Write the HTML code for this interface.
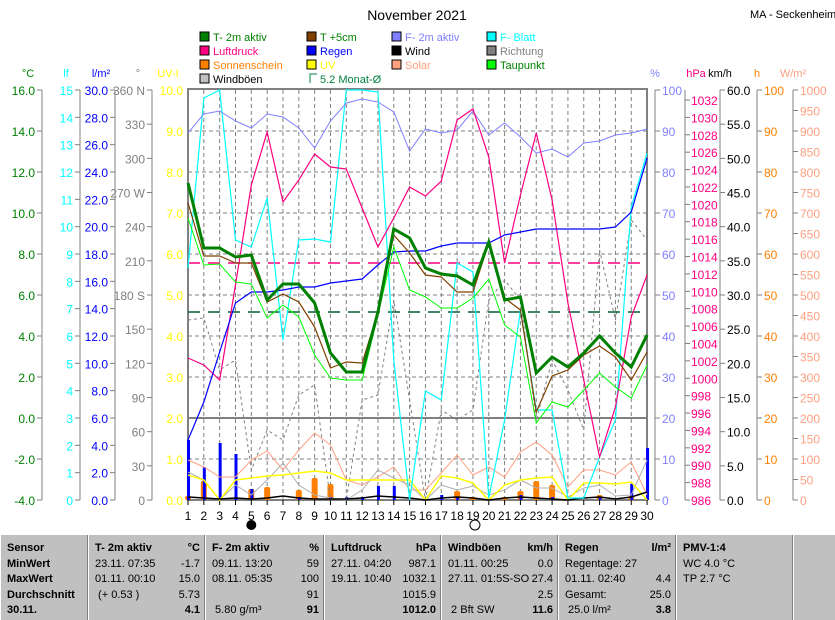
<!DOCTYPE html>
<html><head><meta charset="utf-8"><style>
body{margin:0;width:835px;height:620px;background:#fff;overflow:hidden;font-family:"Liberation Sans",sans-serif;position:relative}
svg{position:absolute;left:0;top:0}
#tb{position:absolute;left:0;top:535px;width:835px;height:85px;background:#c0c0c0;font-size:11px;color:#000}
.c{position:absolute;top:0;height:85px;border-left:1px solid #fff;box-shadow:-1px 0 0 #808080}
.r{position:absolute;white-space:nowrap;line-height:15px}
b{font-weight:bold}
</style></head><body>
<svg id="s" width="835" height="535" font-family="Liberation Sans, sans-serif" font-size="11"></svg>
<div id="tb"></div>
<script>
const s=document.getElementById('s');let h='';
const X=d=>188+(d-1)*15.83;
function t(x,y,str,c,a,sz){h+=`<text x="${x}" y="${y}" fill="${c}" text-anchor="${a||'start'}" font-size="${sz||11}">${str}</text>`;}
function L(x1,y1,x2,y2,c,w,da){h+=`<line x1="${x1}" y1="${y1}" x2="${x2}" y2="${y2}" stroke="${c}" stroke-width="${w||1}" ${da?`stroke-dasharray="${da}"`:''}/>`;}
function P(a,c,w,da){h+=`<polyline fill="none" stroke="${c}" stroke-width="${w||1}" ${da?`stroke-dasharray="${da}"`:''} points="${a.map((y,i)=>X(i+1)+','+y).join(' ')}"/>`;}
t(417,20,'November 2021','#000','middle',14);
t(750,18,'MA - Seckenheim','#000','start',11);
const lg=[[200,41,'#008000','T- 2m aktiv','#008000'],[307,41,'#804000','T +5cm','#008000'],[392,41,'#8080ff','F- 2m aktiv','#8080ff'],[487,41,'#00ffff','F- Blatt','#00ffff'],
[200,55,'#ff0080','Luftdruck','#ff0080'],[307,55,'#0000ff','Regen','#0000ff'],[392,55,'#000','Wind','#000'],[487,55,'#808080','Richtung','#808080'],
[200,69,'#ff8000','Sonnenschein','#ff8000'],[307,69,'#ffff00','UV','#ffff00'],[392,69,'#ffa080','Solar','#ffa080'],[487,69,'#00ff00','Taupunkt','#008000'],
[200,83,'#c0c0c0','Windböen','#000']];
lg.forEach(l=>{h+=`<rect x="${l[0]}" y="${l[1]-9}" width="9" height="9" fill="${l[2]}" stroke="#000"/>`;t(l[0]+13,l[1],l[3],l[4]);});
h+=`<path d="M310 83 V74 H317" fill="none" stroke="#008040"/>`;t(320,83,'5.2 Monat-Ø','#008040');
function ax(x,lab,lc,mn,mx,st,fmt,top,side){L(x,90,x,500,'#808080');t(x+(side?0:-14),77,lab,lc,'middle');
 for(let v=mn;v<=mx+1e-9;v+=st){const y=500-(v-mn)/(mx-mn)*(top?top:410);if(y<88)continue;L(side?x:x-5,y,side?x+5:x,y,'#808080');
 t(side?x+7:x-7,y+5,fmt(v),lc,side?'start':'end',12);}}
ax(42,'°C','#008000',-4,16,2,v=>v.toFixed(1));
ax(80,'lf','#00ffff',0,15,1,v=>v.toFixed(0));
ax(115,'l/m²','#0000ff',0,30,2,v=>v.toFixed(1));
ax(152,'°','#808080',0,360,30,v=>v==360?'360 N':v==270?'270 W':v==180?'180 S':v.toFixed(0));
t(168,77,'UV-I','#ffff00','middle');
for(let v=0;v<=10;v++){const y=500-v*41;t(183,y+5,v.toFixed(1),'#ffff00','end',12);}
ax(655,'%','#8080ff',0,100,10,v=>v.toFixed(0),0,1);
L(685,90,685,500,'#808080');t(696,77,'hPa','#ff0080','middle');
for(let v=986;v<=1032;v+=2){const y=500-(v-986)*400/46;L(685,y,690,y,'#808080');t(691,y+5,v,'#ff0080','start',12);}
ax(720,'km/h','#000',0,60,5,v=>v.toFixed(1),0,1);
ax(757,'h','#ff8000',0,100,10,v=>v.toFixed(0),0,1);
ax(793,'W/m²','#ffa080',0,1000,50,v=>v.toFixed(0),0,1);
for(let k=1;k<10;k++){const y=90+41*k;L(188,y,647,y,'#808080',1,'4,3');}
for(let d=2;d<=29;d++)L(X(d),90,X(d),500,'#808080',1,'4,3');
L(188,418,647,418,'#808080',2);
L(188,500,647,500,'#808080',1);
h+=`<rect x="188" y="89" width="459" height="411" fill="none" stroke="#808080" stroke-width="2"/>`;
for(let d=1;d<=30;d++){L(X(d),500,X(d),505,'#000');t(X(d),520,d,'#000','middle',12);}
h+=`<circle cx="${X(5)}" cy="525" r="5" fill="#000"/><circle cx="${X(19)+2}" cy="525" r="5" fill="#fff" stroke="#000"/>`;
const rain={1:440,2:467,3:443,4:454,5:489,8:497,10:497,11:497,12:497,13:486,14:486,17:495,18:497,22:495,24:497,27:497,29:484,30:448};
const sun={1:496,2:481,5:489,6:487,8:490,9:478,10:484,18:491,19:497,21:497,22:491,23:481,24:485,27:495,29:496};
for(const d in sun)h+=`<rect x="${X(+d)-3}" y="${sun[d]}" width="6" height="${500-sun[d]}" rx="2" fill="#ff8000"/>`;
for(const d in rain)h+=`<rect x="${X(+d)-1}" y="${rain[d]}" width="3" height="${500-rain[d]}" fill="#0000ff"/>`;
P([320,318,370,360,470,430,440,395,385,500,500,400,395,300,400,500,410,420,410,300,280,300,420,360,390,430,250,320,220,240],'#808080',1,'3,3');
P([460,467,477,477,460,451,470,450,433,445,480,485,477,467,490,490,473,455,475,467,477,452,442,455,487,470,470,475,462,495],'#ffa080');
P([472,480,500,485,495,480,463,485,495,498,500,490,470,478,485,500,485,490,486,495,490,480,488,488,497,488,485,496,495,460],'#b0b0b0');
P([475,480,500,480,478,476,475,473,471,473,480,480,480,480,480,500,476,478,483,500,485,480,478,477,500,483,483,484,482,500],'#ffff00',1.5);
P([497,498,499,498,499,498,496,498,499,499,499,498,496,497,498,500,498,497,498,500,498,497,498,499,500,498,497,499,497,492],'#000',1.5);
L(188,263,647,263,'#ff0080',1.5,'12,8');L(188,312,647,312,'#006030',1.5,'12,8');
P([268,98,90,240,247,198,340,240,239,242,90,90,92,360,500,391,400,263,272,498,420,310,410,410,498,498,457,420,207,153],'#00ffff',1.2);
P([133,114,111,121,128,114,117,128,148,121,103,99,102,112,151,129,133,130,111,135,123,137,153,149,157,143,141,135,133,129],'#8080ff');
P([358,365,380,285,185,132,202,180,154,167,169,208,247,218,187,196,181,120,109,157,263,195,133,200,303,380,457,407,317,275],'#ff0080',1.2);
P([440,402,352,303,292,292,290,287,287,283,281,279,265,252,251,251,246,243,243,243,235,232,229,229,229,229,229,227,212,158],'#0000ff',1.2);
P([218,265,264,282,284,318,305,317,355,378,380,380,315,247,290,297,308,308,298,279,325,337,423,402,407,390,373,387,398,365],'#00ff00');
P([203,256,256,263,263,302,294,302,327,368,362,363,312,235,253,275,277,292,292,243,298,310,412,376,370,355,346,357,380,352],'#804000',1.2);
P([183,248,248,257,255,300,284,284,303,353,372,372,312,229,238,268,274,276,285,242,300,297,373,357,367,353,336,353,367,335],'#008000',3);
s.innerHTML=h;
const tb=document.getElementById('tb');let q='';
const cols=[[0,88,[['<b>Sensor</b>'],['<b>MinWert</b>'],['<b>MaxWert</b>'],['<b>Durchschnitt</b>'],['<b>30.11.</b>']]],
[88,117,[['<b>T- 2m aktiv</b>','<b>°C</b>'],['23.11.  07:35','-1.7'],['01.11.  00:10','15.0'],['&nbsp;(+ 0.53 )','5.73'],['','<b>4.1</b>']]],
[205,119,[['<b>F- 2m aktiv</b>','<b>%</b>'],['09.11.  13:20','59'],['08.11.  05:35','100'],['','91'],['&nbsp;5.80 g/m³','<b>91</b>']]],
[324,117,[['<b>Luftdruck</b>','<b>hPa</b>'],['27.11.  04:20','987.1'],['19.11.  10:40','1032.1'],['','1015.9'],['','<b>1012.0</b>']]],
[441,117,[['<b>Windböen</b>','<b>km/h</b>'],['01.11.  00:25','0.0'],['27.11.  01:5S-SO','27.4'],['','2.5'],['&nbsp;2 Bft SW','<b>11.6</b>']]],
[558,118,[['<b>Regen</b>','<b>l/m²</b>'],['Regentage: 27',''],['01.11.  02:40','4.4'],['Gesamt:','25.0'],['&nbsp;25.0 l/m²','<b>3.8</b>']]],
[676,117,[['<b>PMV-1:4</b>'],['WC 4.0 °C'],['TP 2.7 °C'],[''],['']]],[793,42,[]]];
cols.forEach(c=>{q+=`<div class="c" style="left:${c[0]}px;width:${c[1]}px">`;
 c[2].forEach((r,i)=>{q+=`<div class="r" style="left:6px;top:${6+i*15.5}px">${r[0]}</div>`;if(r[1]!==undefined)q+=`<div class="r" style="right:6px;top:${6+i*15.5}px">${r[1]}</div>`;});q+='</div>';});
tb.innerHTML=q;
</script>
</body></html>
